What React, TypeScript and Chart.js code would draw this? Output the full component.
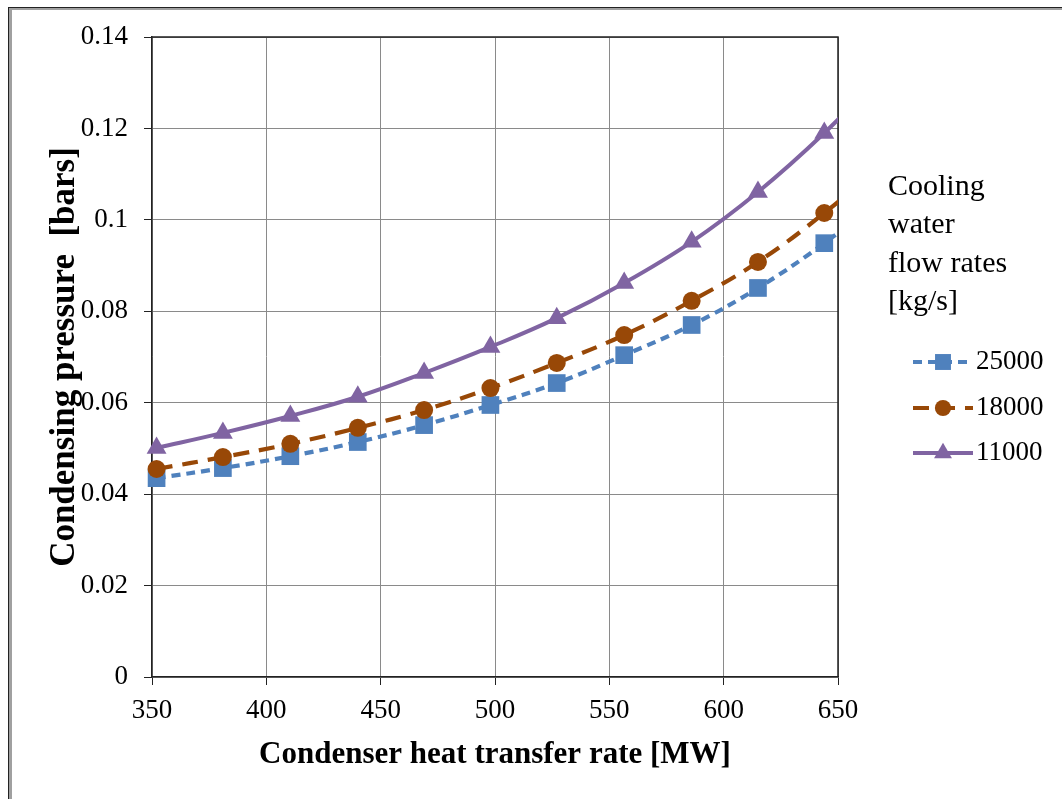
import React, { useEffect, useRef } from 'react';
import { Chart, registerables } from 'chart.js';

Chart.register(...registerables);

// ---- data ----
const X_VALUES = [352, 381, 410.5, 440, 469, 498, 527, 556.5, 586, 615, 644, 673.5];
const SERIES_NAMES = ['25000', '18000', '11000'];
const FLOW_25000 = [0.0435, 0.0457, 0.0483, 0.0514, 0.0551, 0.0595, 0.0643, 0.0704, 0.077, 0.0851, 0.0949, 0.1065];
const FLOW_18000 = [0.0455, 0.0481, 0.051, 0.0545, 0.0584, 0.0632, 0.0687, 0.0748, 0.0823, 0.0908, 0.1015, 0.114];
const FLOW_11000 = [0.0501, 0.0534, 0.0571, 0.0613, 0.0665, 0.0722, 0.0785, 0.0862, 0.0952, 0.1061, 0.119, 0.134];
const X_TICKS = [350, 400, 450, 500, 550, 600, 650];
const Y_TICKS = [0, 0.02, 0.04, 0.06, 0.08, 0.1, 0.12, 0.14];
const LEGEND_TITLE = ['Cooling', 'water', 'flow rates', '[kg/s]'];
const X_TITLE = 'Condenser heat transfer rate [MW]';
const Y_TITLE = 'Condensing pressure  [bars]';

const FAMILY = '"Liberation Serif", "Times New Roman", serif';

const STYLES = [
  { color: '#4F81BD', dash: [9, 6], width: 4.2, point: 'rect', radius: 12.5 },
  { color: '#984807', dash: [16, 10], width: 4.2, point: 'circle', radius: 9 },
  { color: '#8064A2', dash: [] as number[], width: 4, point: 'triangle', radius: 11.5 },
];

const W = 1062;
const H = 799;

function drawMarker(ctx: CanvasRenderingContext2D, kind: string, x: number, y: number, r: number, color: string) {
  ctx.save();
  ctx.fillStyle = color;
  ctx.beginPath();
  if (kind === 'rect') {
    const s = r * Math.SQRT1_2;
    ctx.rect(x - s, y - s, 2 * s, 2 * s);
  } else if (kind === 'circle') {
    ctx.arc(x, y, r, 0, Math.PI * 2);
  } else {
    for (let i = 0; i < 3; i++) {
      const a = (i * 2 * Math.PI) / 3;
      const px = x + Math.sin(a) * r;
      const py = y - Math.cos(a) * r;
      if (i === 0) ctx.moveTo(px, py);
      else ctx.lineTo(px, py);
    }
    ctx.closePath();
  }
  ctx.fill();
  ctx.restore();
}

const decorPlugin = {
  id: 'decor',
  beforeDatasetsDraw(chart: any) {
    const { ctx, chartArea } = chart;
    ctx.save();
    ctx.strokeStyle = '#222';
    ctx.lineWidth = 1.5;
    ctx.beginPath();
    ctx.moveTo(chartArea.left, chartArea.top);
    ctx.lineTo(chartArea.right, chartArea.top);
    ctx.lineTo(chartArea.right, chartArea.bottom);
    ctx.stroke();
    ctx.restore();
  },
  afterDraw(chart: any) {
    const ctx: CanvasRenderingContext2D = chart.ctx;
    ctx.save();
    // outer frame
    ctx.fillStyle = '#222';
    ctx.fillRect(8, 7, W - 8, 1);
    ctx.fillRect(8, 7, 1, H - 7);
    ctx.fillStyle = '#a0a0a0';
    ctx.fillRect(9, 8, W - 9, 2);
    ctx.fillRect(9, 8, 3, H - 8);

    // legend title
    ctx.fillStyle = '#000';
    ctx.textAlign = 'left';
    ctx.textBaseline = 'middle';
    ctx.font = `30px ${FAMILY}`;
    LEGEND_TITLE.forEach((t, i) => ctx.fillText(t, 888, 187 + i * 38.5));

    // legend items
    const ys = [362, 408, 453];
    SERIES_NAMES.forEach((name, i) => {
      const st = STYLES[i];
      const y = ys[i];
      ctx.save();
      ctx.strokeStyle = st.color;
      ctx.lineWidth = st.width;
      ctx.setLineDash(st.dash);
      ctx.beginPath();
      ctx.moveTo(913, y);
      ctx.lineTo(973, y);
      ctx.stroke();
      ctx.restore();
      drawMarker(ctx, st.point, 943, y, st.radius * 0.9, st.color);
      ctx.fillStyle = '#000';
      ctx.font = `27px ${FAMILY}`;
      ctx.fillText(name, 976, y);
    });
    ctx.restore();
  },
};

export default function App() {
  const ref = useRef<HTMLCanvasElement | null>(null);

  useEffect(() => {
    if (!ref.current) return;
    const seriesValues = [FLOW_25000, FLOW_18000, FLOW_11000];
    const datasets = SERIES_NAMES.map((name, i) => {
      const st = STYLES[i];
      return {
        label: name,
        data: X_VALUES.map((x, j) => ({ x, y: seriesValues[i][j] })),
        borderColor: st.color,
        backgroundColor: st.color,
        borderWidth: st.width,
        borderDash: st.dash,
        pointStyle: st.point,
        pointRadius: st.radius,
        pointBackgroundColor: st.color,
        pointBorderColor: st.color,
        pointBorderWidth: 0,
        tension: 0.4,
        fill: false,
        order: 2 - i,
        clip: { left: 20, top: 20, right: 0, bottom: 0 },
      };
    });

    const chart = new Chart(ref.current, {
      type: 'line',
      data: { datasets } as any,
      options: {
        animation: false,
        responsive: false,
        maintainAspectRatio: false,
        layout: { padding: { left: 0, top: 37, right: 224, bottom: 0 } },
        plugins: { legend: { display: false }, tooltip: { enabled: false } },
        scales: {
          x: {
            type: 'linear',
            min: 350,
            max: 650,
            afterBuildTicks: (s: any) => {
              s.ticks = X_TICKS.map((v) => ({ value: v }));
            },
            afterFit: (s: any) => {
              s.height = 122;
            },
            grid: { color: '#8a8a8a', lineWidth: 1, tickColor: '#222', tickLength: 8 },
            border: { color: '#222', width: 1.5 },
            ticks: {
              font: { family: FAMILY, size: 27 },
              color: '#000',
              padding: 10,
              maxRotation: 0,
              autoSkip: false,
              callback: (v: any) => String(v),
            },
            title: {
              display: true,
              text: X_TITLE,
              color: '#000',
              font: { family: FAMILY, size: 31, weight: 'bold' },
              padding: { top: 0, bottom: 25 },
            },
          },
          y: {
            type: 'linear',
            min: 0,
            max: 0.14,
            afterBuildTicks: (s: any) => {
              s.ticks = Y_TICKS.map((v) => ({ value: v }));
            },
            afterFit: (s: any) => {
              s.width = 152;
            },
            grid: { color: '#8a8a8a', lineWidth: 1, tickColor: '#222', tickLength: 8 },
            border: { color: '#222', width: 1.5 },
            ticks: {
              font: { family: FAMILY, size: 27 },
              color: '#000',
              padding: 16,
              callback: (v: any) => String(Math.round(Number(v) * 100) / 100),
            },
            title: {
              display: true,
              text: Y_TITLE,
              color: '#000',
              font: { family: FAMILY, size: 35, weight: 'bold' },
              padding: { top: 44, bottom: 0 },
            },
          },
        },
      } as any,
      plugins: [decorPlugin],
    });
    return () => chart.destroy();
  }, []);

  return (
    <div style={{ position: 'fixed', left: 0, top: 0, width: W, height: H, background: '#fff' }}>
      <canvas ref={ref} width={W} height={H} style={{ display: 'block', width: W, height: H }} />
    </div>
  );
}
